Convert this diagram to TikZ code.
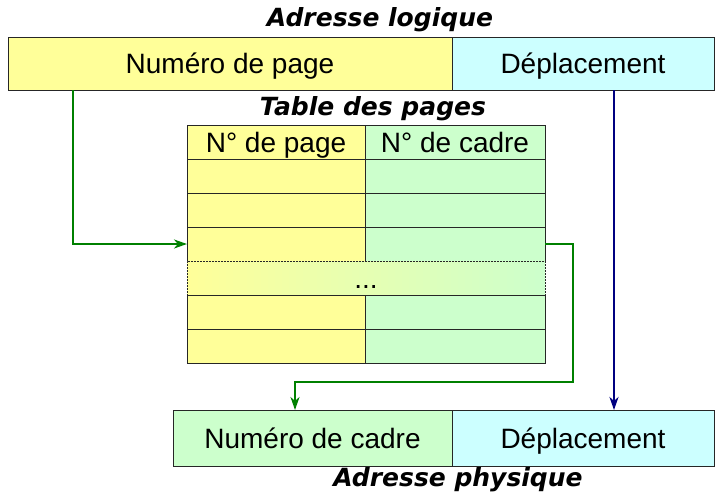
\documentclass[tikz,border=0pt]{standalone}
\usepackage{fontspec}
\setmainfont{Liberation Sans}
\newfontfamily\titlefont{DejaVu Sans}
\usetikzlibrary{arrows.meta,positioning}

\definecolor{pageyellow}{HTML}{FFFF99}
\definecolor{offcyan}{HTML}{CCFFFF}
\definecolor{cadregreen}{HTML}{CCFFCC}
\definecolor{linkgreen}{HTML}{008000}
\definecolor{linknavy}{HTML}{000080}

\begin{document}
\begin{tikzpicture}[
  x=1pt, y=-1pt,
  >={Stealth[length=13pt,width=9pt,inset=4pt]},
  cell/.style={draw=black!85, line width=0.8pt, inner sep=0pt, outer sep=0pt,
               text height=20pt, text depth=0pt, font=\fontsize{28}{32}\selectfont},
  field/.style={cell, minimum height=53pt},
  row/.style={cell, minimum height=34pt},
  title/.style={font=\titlefont\fontsize{25}{30}\selectfont\bfseries\itshape},
  link/.style={->, line width=2pt, draw=linkgreen, color=linkgreen}
]
\useasboundingbox (0,0) rectangle (715,495);

% adresse logique
\node[field, fill=pageyellow, minimum width=444pt, anchor=north west] (pg) at (8,37) {Numéro de page};
\node[field, fill=offcyan, minimum width=262pt, right=0pt of pg] (dep) {Déplacement};
\node[title] (logique) at (380,20) {Adresse logique};

% table des pages
\node[title] (tabletitle) at (373,109) {Table des pages};
\node[row, fill=pageyellow, minimum width=178pt, anchor=north west] (ph) at (187,125) {N° de page};
\node[row, fill=cadregreen, minimum width=180pt, right=0pt of ph] (fh) {N° de cadre};

\node[row, fill=pageyellow, minimum width=178pt, below=0pt of ph] (p1) {};
\node[row, fill=pageyellow, minimum width=178pt, below=0pt of p1] (p2) {};
\node[row, fill=pageyellow, minimum width=178pt, below=0pt of p2] (p3) {};
\node[row, fill=cadregreen, minimum width=180pt, right=0pt of p1] (f1) {};
\node[row, fill=cadregreen, minimum width=180pt, right=0pt of p2] (f2) {};
\node[row, fill=cadregreen, minimum width=180pt, right=0pt of p3] (f3) {};

\node[row, dashed, dash pattern=on 2pt off 1pt, left color=pageyellow, right color=cadregreen,
      minimum width=358pt, anchor=north west] (dots) at (p3.south west) {...};

\node[row, fill=pageyellow, minimum width=178pt, anchor=north west] (p5) at (dots.south west) {};
\node[row, fill=pageyellow, minimum width=178pt, below=0pt of p5] (p6) {};
\node[row, fill=cadregreen, minimum width=180pt, right=0pt of p5] (f5) {};
\node[row, fill=cadregreen, minimum width=180pt, right=0pt of p6] (f6) {};

% adresse physique
\node[cell, fill=cadregreen, minimum width=279pt, minimum height=56pt, anchor=north west] (cadre) at (173,410) {Numéro de cadre};
\node[cell, fill=offcyan, minimum width=262pt, minimum height=56pt, right=0pt of cadre] (depp) {Déplacement};
\node[title] (physique) at (458,480) {Adresse physique};

% liens
\draw[link] ([xshift=65pt]pg.south west) |- (p3.west);
\draw[link] (f3.east) -- ++(28,0) |- ([xshift=122pt,yshift=28pt]cadre.north west)
  -- ([xshift=122pt]cadre.north west);
\draw[->, line width=2.4pt, draw=linknavy, color=linknavy]
  ([xshift=162pt]dep.south west) -- ([xshift=162pt]depp.north west);

\end{tikzpicture}
\end{document}
